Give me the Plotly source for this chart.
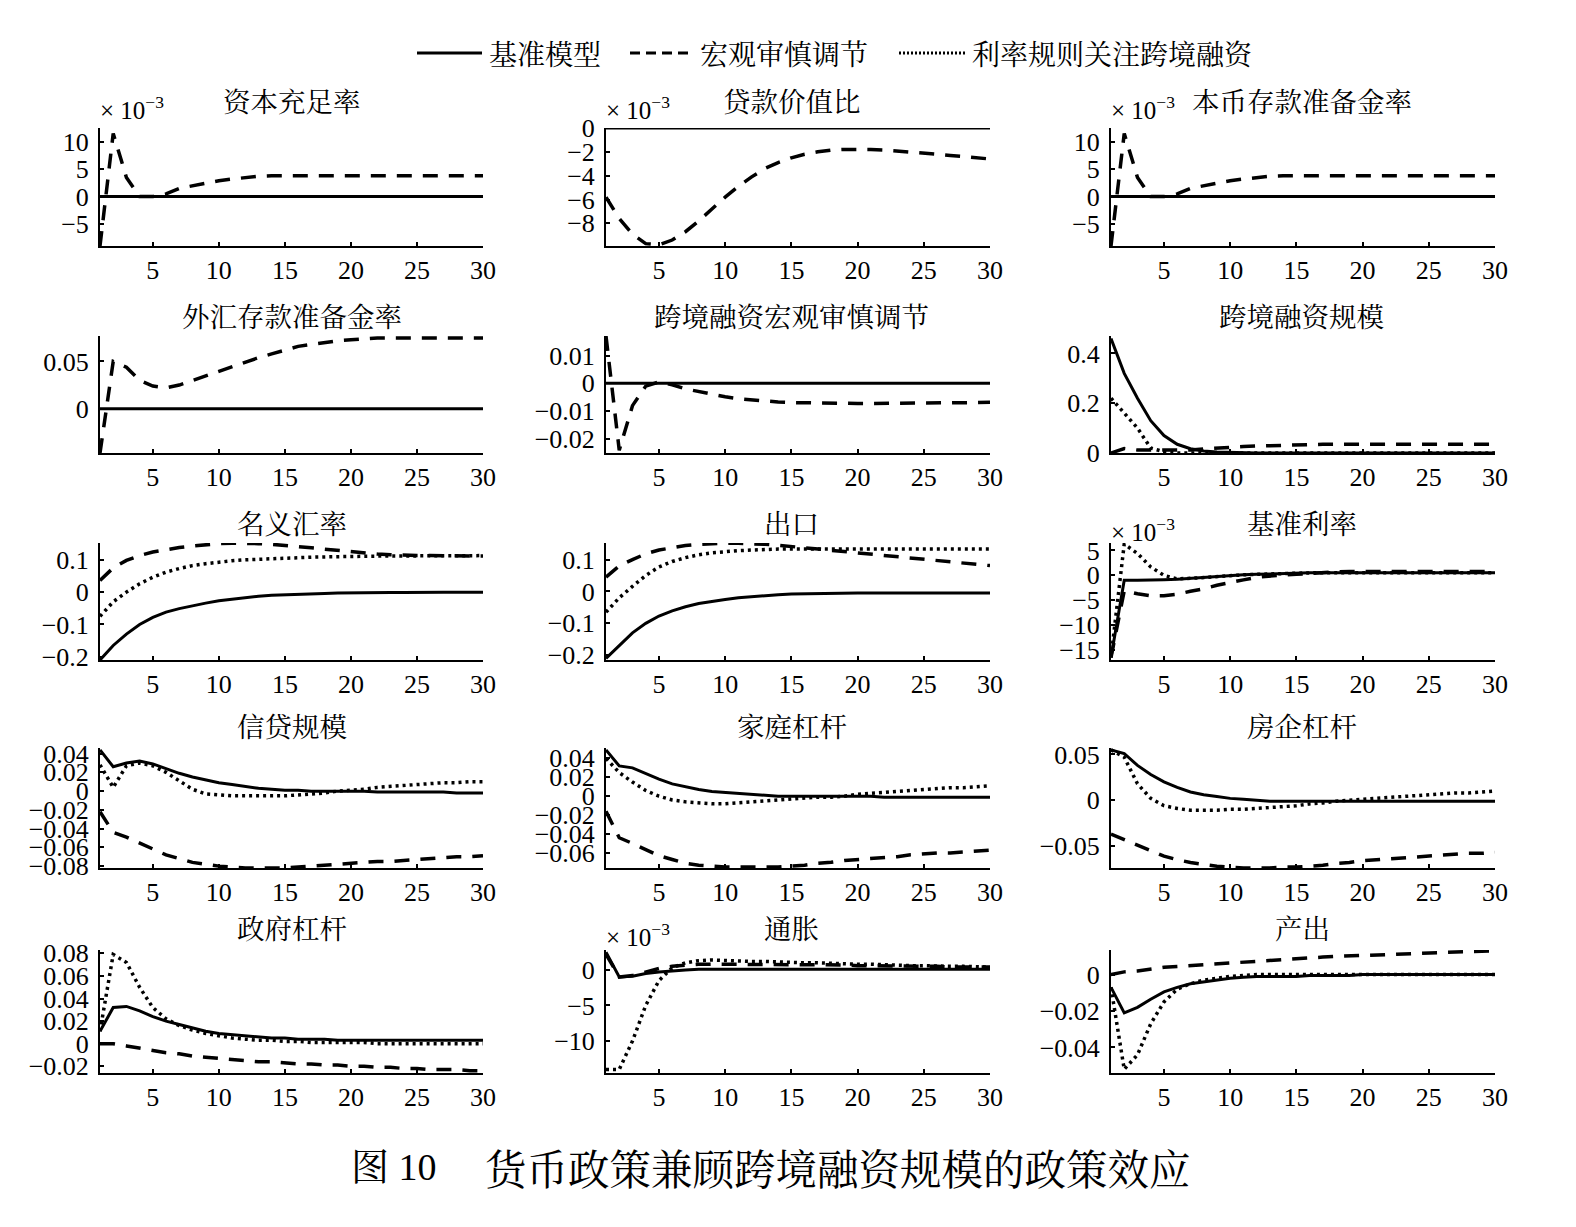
import plotly.graph_objects as go

W, H = 1576, 1227
periods = list(range(1, 31))

# ---------------- data ----------------
# 资本充足率 (x10^-3)
cap_base = [0.0] * 30
cap_macro = [-9.0, 11.5, 3.5, 0.0, 0.0, 0.5, 1.5, 2.0, 2.5, 2.9, 3.2, 3.5, 3.7, 3.8, 3.8,
             3.8, 3.8, 3.8, 3.8, 3.8, 3.8, 3.8, 3.8, 3.8, 3.8, 3.8, 3.8, 3.8, 3.8, 3.8]
# 贷款价值比 (x10^-3)
ltv_base = [0.0] * 30
ltv_macro = [-5.8, -7.6, -8.9, -9.7, -9.8, -9.4, -8.7, -7.8, -6.8, -5.8, -4.9, -4.1, -3.4, -2.9, -2.5,
             -2.2, -2.0, -1.85, -1.8, -1.78, -1.8, -1.85, -1.92, -2.0, -2.1, -2.2, -2.3, -2.42, -2.52, -2.6]
# 本币存款准备金率 (x10^-3)
rrd_base = [0.0] * 30
rrd_macro = [-9.0, 11.5, 3.5, 0.0, 0.0, 0.5, 1.5, 2.0, 2.5, 2.9, 3.2, 3.5, 3.7, 3.8, 3.8,
             3.8, 3.8, 3.8, 3.8, 3.8, 3.8, 3.8, 3.8, 3.8, 3.8, 3.8, 3.8, 3.8, 3.8, 3.8]
# 外汇存款准备金率
rrf_base = [0.0] * 30
rrf_macro = [-0.047, 0.050, 0.044, 0.030, 0.024, 0.022, 0.025, 0.030, 0.035, 0.040, 0.045, 0.050, 0.054, 0.058, 0.062,
             0.066, 0.068, 0.070, 0.072, 0.073, 0.074, 0.075, 0.075, 0.075, 0.075, 0.075, 0.075, 0.075, 0.075, 0.075]
# 跨境融资宏观审慎调节
cbm_base = [0.0] * 30
cbm_macro = [0.017, -0.024, -0.008, -0.001, 0.0005, -0.0005, -0.002, -0.003, -0.004, -0.0048, -0.0055, -0.006, -0.0064, -0.0067, -0.0069,
             -0.007, -0.0072, -0.0072, -0.0072, -0.0072, -0.0072, -0.0072, -0.0072, -0.0072, -0.0072, -0.0072, -0.0072, -0.007, -0.0069, -0.0068]
# 跨境融资规模
cbs_base = [0.46, 0.32, 0.22, 0.13, 0.07, 0.035, 0.017, 0.008, 0.004, 0.002, 0.001, 0.0, 0.0, 0.0, 0.0,
            0.0, 0.0, 0.0, 0.0, 0.0, 0.0, 0.0, 0.0, 0.0, 0.0, 0.0, 0.0, 0.0, 0.0, 0.0]
cbs_macro = [0.0, 0.018, 0.012, 0.012, 0.010, 0.010, 0.012, 0.016, 0.020, 0.023, 0.026, 0.028, 0.030, 0.032, 0.034,
             0.035, 0.035, 0.035, 0.035, 0.035, 0.035, 0.035, 0.035, 0.035, 0.035, 0.035, 0.035, 0.035, 0.035, 0.035]
cbs_rule = [0.22, 0.16, 0.10, 0.02, 0.005, 0.0, 0.0, 0.0, 0.0, 0.0, 0.0, 0.0, 0.0, 0.0, 0.0,
            0.0, 0.0, 0.0, 0.0, 0.0, 0.0, 0.0, 0.0, 0.0, 0.0, 0.0, 0.0, 0.0, 0.0, 0.0]
# 名义汇率
fx_base = [-0.21, -0.165, -0.13, -0.10, -0.078, -0.062, -0.051, -0.042, -0.034, -0.027, -0.022, -0.017, -0.013, -0.010, -0.008,
           -0.006, -0.005, -0.004, -0.003, -0.002, -0.002, -0.001, -0.001, -0.001, 0.0, 0.0, 0.0, 0.0, 0.0, 0.0]
fx_macro = [0.036, 0.075, 0.098, 0.113, 0.124, 0.132, 0.138, 0.143, 0.147, 0.150, 0.151, 0.151, 0.150, 0.148, 0.145,
            0.141, 0.137, 0.133, 0.129, 0.125, 0.121, 0.118, 0.116, 0.114, 0.113, 0.113, 0.112, 0.112, 0.112, 0.112]
fx_rule = [-0.075, -0.03, 0.0, 0.026, 0.046, 0.062, 0.073, 0.082, 0.088, 0.093, 0.097, 0.100, 0.102, 0.104, 0.106,
           0.107, 0.108, 0.109, 0.110, 0.110, 0.111, 0.111, 0.112, 0.112, 0.112, 0.113, 0.113, 0.113, 0.113, 0.113]
# 出口
ex_base = [-0.21, -0.17, -0.13, -0.10, -0.077, -0.061, -0.048, -0.038, -0.031, -0.025, -0.020, -0.016, -0.013, -0.010, -0.008,
           -0.007, -0.006, -0.006, -0.005, -0.005, -0.005, -0.005, -0.005, -0.005, -0.005, -0.005, -0.005, -0.005, -0.005, -0.005]
ex_macro = [0.045, 0.08, 0.10, 0.118, 0.13, 0.138, 0.144, 0.148, 0.15, 0.151, 0.151, 0.15, 0.148, 0.145, 0.141,
            0.137, 0.133, 0.129, 0.125, 0.121, 0.117, 0.113, 0.109, 0.105, 0.101, 0.097, 0.093, 0.089, 0.085, 0.081]
ex_rule = [-0.065, -0.02, 0.016, 0.05, 0.077, 0.094, 0.106, 0.115, 0.121, 0.125, 0.128, 0.130, 0.132, 0.133, 0.133,
           0.133, 0.133, 0.133, 0.133, 0.133, 0.133, 0.133, 0.133, 0.133, 0.133, 0.133, 0.133, 0.133, 0.133, 0.133]
# 基准利率 (x10^-3)
ir_base = [-16.5, -1.0, -1.0, -1.0, -0.9, -0.8, -0.6, -0.4, -0.2, 0.0, 0.1, 0.2, 0.3, 0.4, 0.4,
           0.5, 0.5, 0.5, 0.5, 0.5, 0.5, 0.5, 0.5, 0.5, 0.5, 0.5, 0.5, 0.5, 0.5, 0.5]
ir_macro = [-16.5, -3.1, -3.7, -4.1, -4.1, -3.8, -3.2, -2.7, -2.0, -1.4, -0.9, -0.4, -0.1, 0.1, 0.2,
            0.4, 0.6, 0.7, 0.8, 0.8, 0.9, 0.9, 0.9, 0.9, 0.9, 0.9, 0.9, 0.9, 0.8, 0.7]
ir_rule = [-16.5, 6.3, 4.4, 1.7, 0.0, -0.7, -0.6, -0.4, -0.2, 0.0, 0.1, 0.2, 0.3, 0.4, 0.4,
           0.5, 0.5, 0.5, 0.5, 0.5, 0.5, 0.5, 0.5, 0.5, 0.5, 0.5, 0.5, 0.5, 0.5, 0.5]
# 信贷规模
cr_base = [0.044, 0.026, 0.030, 0.032, 0.029, 0.024, 0.019, 0.015, 0.012, 0.009, 0.007, 0.005, 0.003, 0.002, 0.001,
           0.001, 0.0, 0.0, 0.0, 0.0, 0.0, -0.001, -0.001, -0.001, -0.001, -0.001, -0.001, -0.002, -0.002, -0.002]
cr_macro = [-0.022, -0.044, -0.049, -0.055, -0.062, -0.068, -0.072, -0.076, -0.078, -0.080, -0.081, -0.082, -0.082, -0.082, -0.082,
            -0.081, -0.080, -0.079, -0.078, -0.077, -0.076, -0.075, -0.075, -0.074, -0.073, -0.072, -0.071, -0.070, -0.070, -0.069]
cr_rule = [0.028, 0.004, 0.027, 0.030, 0.027, 0.020, 0.011, 0.002, -0.003, -0.004, -0.005, -0.005, -0.005, -0.005, -0.005,
           -0.004, -0.003, -0.002, 0.0, 0.001, 0.002, 0.004, 0.005, 0.006, 0.007, 0.008, 0.009, 0.009, 0.010, 0.010]
# 家庭杠杆
hh_base = [0.049, 0.032, 0.030, 0.024, 0.018, 0.013, 0.010, 0.007, 0.005, 0.004, 0.003, 0.002, 0.001, 0.0, 0.0,
           0.0, 0.0, 0.0, 0.0, 0.0, 0.0, -0.001, -0.001, -0.001, -0.001, -0.001, -0.001, -0.001, -0.001, -0.001]
hh_macro = [-0.016, -0.044, -0.050, -0.057, -0.063, -0.067, -0.071, -0.073, -0.074, -0.075, -0.075, -0.075, -0.075, -0.075, -0.074,
            -0.073, -0.071, -0.070, -0.068, -0.067, -0.066, -0.065, -0.064, -0.062, -0.061, -0.060, -0.060, -0.059, -0.058, -0.057]
hh_rule = [0.040, 0.025, 0.015, 0.006, 0.0, -0.004, -0.006, -0.007, -0.008, -0.008, -0.007, -0.006, -0.005, -0.004, -0.003,
           -0.002, -0.001, -0.001, 0.0, 0.002, 0.003, 0.004, 0.005, 0.006, 0.007, 0.008, 0.009, 0.009, 0.010, 0.011]
# 房企杠杆
re_base = [0.055, 0.051, 0.038, 0.028, 0.020, 0.014, 0.009, 0.006, 0.004, 0.002, 0.001, 0.0, -0.001, -0.001, -0.001,
           -0.001, -0.001, -0.001, -0.001, -0.001, -0.001, -0.001, -0.001, -0.001, -0.001, -0.001, -0.001, -0.001, -0.001, -0.001]
re_macro = [-0.037, -0.043, -0.049, -0.055, -0.061, -0.065, -0.068, -0.070, -0.072, -0.073, -0.074, -0.074, -0.074, -0.073, -0.073,
            -0.072, -0.071, -0.069, -0.068, -0.066, -0.065, -0.064, -0.063, -0.062, -0.061, -0.060, -0.059, -0.058, -0.058, -0.057]
re_rule = [0.055, 0.047, 0.018, 0.002, -0.006, -0.009, -0.011, -0.011, -0.011, -0.010, -0.010, -0.009, -0.008, -0.007, -0.006,
           -0.004, -0.003, -0.001, 0.0, 0.001, 0.002, 0.003, 0.004, 0.005, 0.006, 0.007, 0.008, 0.008, 0.009, 0.010]
# 政府杠杆
gov_base = [0.011, 0.032, 0.033, 0.029, 0.024, 0.020, 0.017, 0.014, 0.011, 0.009, 0.008, 0.007, 0.006, 0.005, 0.005,
            0.004, 0.004, 0.004, 0.003, 0.003, 0.003, 0.003, 0.003, 0.003, 0.003, 0.003, 0.003, 0.003, 0.003, 0.003]
gov_macro = [0.0, 0.0, -0.002, -0.004, -0.006, -0.008, -0.009, -0.011, -0.012, -0.013, -0.014, -0.015, -0.016, -0.016, -0.017,
             -0.018, -0.018, -0.019, -0.019, -0.020, -0.020, -0.021, -0.021, -0.022, -0.022, -0.023, -0.023, -0.023, -0.024, -0.024]
gov_rule = [0.011, 0.079, 0.072, 0.050, 0.032, 0.022, 0.016, 0.012, 0.009, 0.007, 0.005, 0.004, 0.003, 0.003, 0.002,
            0.002, 0.001, 0.001, 0.001, 0.001, 0.001, 0.0, 0.0, 0.0, 0.0, 0.0, 0.0, 0.0, 0.0, 0.0]
# 通胀 (x10^-3)
inf_base = [2.5, -1.0, -0.9, -0.5, -0.3, -0.1, 0.0, 0.1, 0.1, 0.2, 0.2, 0.2, 0.2, 0.2, 0.2,
            0.2, 0.2, 0.2, 0.2, 0.2, 0.2, 0.2, 0.2, 0.1, 0.1, 0.1, 0.1, 0.1, 0.1, 0.1]
inf_macro = [2.2, -1.0, -0.8, -0.3, 0.2, 0.5, 0.7, 0.8, 0.8, 0.8, 0.8, 0.8, 0.8, 0.8, 0.8,
             0.7, 0.7, 0.7, 0.7, 0.6, 0.6, 0.6, 0.5, 0.5, 0.5, 0.5, 0.4, 0.4, 0.4, 0.4]
inf_rule = [-14.0, -14.0, -10.0, -5.0, -1.5, 0.3, 1.0, 1.3, 1.4, 1.3, 1.3, 1.2, 1.2, 1.1, 1.1,
            1.0, 1.0, 0.9, 0.9, 0.8, 0.8, 0.7, 0.7, 0.6, 0.6, 0.5, 0.5, 0.5, 0.4, 0.4]
# 产出
out_base = [-0.007, -0.021, -0.018, -0.0135, -0.0095, -0.007, -0.005, -0.004, -0.003, -0.002, -0.0015, -0.001, -0.001, -0.001, -0.001,
            -0.0005, -0.0005, -0.0005, -0.0005, 0.0, 0.0, 0.0, 0.0, 0.0, 0.0, 0.0, 0.0, 0.0, 0.0, 0.0]
out_macro = [0.0, 0.0015, 0.002, 0.003, 0.004, 0.0045, 0.005, 0.0055, 0.006, 0.0065, 0.007, 0.0075, 0.008, 0.0085, 0.009,
             0.0093, 0.0096, 0.01, 0.0103, 0.0106, 0.0109, 0.0112, 0.0115, 0.0117, 0.012, 0.0122, 0.0124, 0.0126, 0.0128, 0.013]
out_rule = [-0.007, -0.052, -0.044, -0.027, -0.015, -0.008, -0.005, -0.003, -0.002, -0.001, -0.0005, 0.0, 0.0, 0.0, 0.0,
            0.0, 0.0, 0.0, 0.0, 0.0, 0.0, 0.0, 0.0, 0.0, 0.0, 0.0, 0.0, 0.0, 0.0, 0.0]

x_ticks = [5, 10, 15, 20, 25, 30]
series_names = ["基准模型", "宏观审慎调节", "利率规则关注跨境融资"]
caption_no = "图 10"
caption_text = "货币政策兼顾跨境融资规模的政策效应"

panels = [
    ("资本充足率", cap_base, cap_macro, None, [-9, 12.5], [10, 5, 0, -5], ["10", "5", "0", "−5"], True),
    ("贷款价值比", ltv_base, ltv_macro, None, [-9.9, 0], [0, -2, -4, -6, -8], ["0", "−2", "−4", "−6", "−8"], True),
    ("本币存款准备金率", rrd_base, rrd_macro, None, [-9, 12.5], [10, 5, 0, -5], ["10", "5", "0", "−5"], True),
    ("外汇存款准备金率", rrf_base, rrf_macro, None, [-0.047, 0.077], [0.05, 0, -0.05], ["0.05", "0", "−0.05"], False),
    ("跨境融资宏观审慎调节", cbm_base, cbm_macro, None, [-0.025, 0.017], [0.01, 0, -0.01, -0.02], ["0.01", "0", "−0.01", "−0.02"], False),
    ("跨境融资规模", cbs_base, cbs_macro, cbs_rule, [0, 0.47], [0.4, 0.2, 0], ["0.4", "0.2", "0"], False),
    ("名义汇率", fx_base, fx_macro, fx_rule, [-0.21, 0.152], [0.1, 0, -0.1, -0.2], ["0.1", "0", "−0.1", "−0.2"], False),
    ("出口", ex_base, ex_macro, ex_rule, [-0.215, 0.152], [0.1, 0, -0.1, -0.2], ["0.1", "0", "−0.1", "−0.2"], False),
    ("基准利率", ir_base, ir_macro, ir_rule, [-17, 6.5], [5, 0, -5, -10, -15], ["5", "0", "−5", "−10", "−15"], True),
    ("信贷规模", cr_base, cr_macro, cr_rule, [-0.082, 0.046], [0.04, 0.02, 0, -0.02, -0.04, -0.06, -0.08],
     ["0.04", "0.02", "0", "−0.02", "−0.04", "−0.06", "−0.08"], False),
    ("家庭杠杆", hh_base, hh_macro, hh_rule, [-0.076, 0.051], [0.04, 0.02, 0, -0.02, -0.04, -0.06],
     ["0.04", "0.02", "0", "−0.02", "−0.04", "−0.06"], False),
    ("房企杠杆", re_base, re_macro, re_rule, [-0.074, 0.057], [0.05, 0, -0.05], ["0.05", "0", "−0.05"], False),
    ("政府杠杆", gov_base, gov_macro, gov_rule, [-0.026, 0.083], [0.08, 0.06, 0.04, 0.02, 0, -0.02],
     ["0.08", "0.06", "0.04", "0.02", "0", "−0.02"], False),
    ("通胀", inf_base, inf_macro, inf_rule, [-14.5, 2.8], [0, -5, -10], ["0", "−5", "−10"], True),
    ("产出", out_base, out_macro, out_rule, [-0.054, 0.0135], [0, -0.02, -0.04], ["0", "−0.02", "−0.04"], False),
]

# ---------------- layout geometry (pixels) ----------------
col_left = [100, 606, 1111]
col_right = [483, 990, 1495]
title_x = [292, 792, 1302]
row_top = [128, 336, 543, 748, 950]
row_bot = [246, 453, 660, 868, 1073]
title_y = [100, 315, 522, 725, 927]

SERIF = "Liberation Serif, Times New Roman, Noto Serif CJK SC, Noto Sans CJK SC, serif"
CJK = "Noto Serif CJK SC, Noto Sans CJK SC, serif"


def fx(p):
    return p / W


def fy(p):
    return 1 - p / H


styles = [
    dict(color="black", width=3),
    dict(color="black", width=3.5, dash="15px,11px"),
    dict(color="black", width=3.5, dash="3px,4px"),
]

fig = go.Figure()
layout = dict(
    width=W, height=H, autosize=False,
    margin=dict(l=0, r=0, t=0, b=0, pad=0, autoexpand=False),
    paper_bgcolor="white", plot_bgcolor="white", showlegend=False,
    font=dict(family=SERIF, color="black", size=24),
)
annotations = []
shapes = []

for i, (title, base, macro, rule, yr, tv, tt, exp) in enumerate(panels):
    r, c = divmod(i, 3)
    k = i + 1
    xa = "x" if k == 1 else f"x{k}"
    ya = "y" if k == 1 else f"y{k}"
    for vals, st in ((rule, styles[2]), (macro, styles[1]), (base, styles[0])):
        if vals is None:
            continue
        fig.add_trace(go.Scatter(x=periods, y=vals, mode="lines", line=st,
                                 xaxis=xa, yaxis=ya, hoverinfo="skip"))
    layout[f"xaxis{k}"] = dict(
        domain=[fx(col_left[c]), fx(col_right[c])], anchor=ya, range=[1, 30],
        tickvals=x_ticks, ticks="inside", ticklen=4, tickwidth=2, tickcolor="black",
        showline=True, linecolor="black", linewidth=2, showgrid=False, zeroline=False,
        automargin=False,
        tickfont=dict(family=SERIF, size=26, color="black"), ticklabelstandoff=0,
    )
    layout[f"yaxis{k}"] = dict(
        domain=[fy(row_bot[r]), fy(row_top[r])], anchor=xa, range=yr,
        tickvals=tv, ticktext=tt, ticks="inside", ticklen=4, tickwidth=2, tickcolor="black",
        showline=True, linecolor="black", linewidth=2, showgrid=False, zeroline=False,
        automargin=False,
        tickfont=dict(family=SERIF, size=26, color="black"), ticklabelstandoff=4,
    )
    annotations.append(dict(
        text=title, xref="paper", yref="paper",
        x=fx(title_x[c]), y=fy(title_y[r]),
        xanchor="center", yanchor="middle", showarrow=False,
        font=dict(family=CJK, size=27.5, color="black"),
    ))
    if exp:
        annotations.append(dict(
            text="× 10<sup>−3</sup>", xref="paper", yref="paper",
            x=fx(col_left[c] - 2), y=fy(title_y[r] + 8),
            xanchor="left", yanchor="middle", showarrow=False,
            font=dict(family=SERIF, size=25, color="black"),
        ))

# legend (drawn manually at top)
leg_y = 53
leg_items = [(417, 482, 487, styles[0]), (630, 693, 698, dict(color="black", width=3, dash="10px,6px")),
             (899, 967, 970, dict(color="black", width=3, dash="2px,2px"))]
for (x0, x1, xt, st), name in zip(leg_items, series_names):
    shapes.append(dict(type="line", xref="paper", yref="paper",
                       x0=fx(x0), x1=fx(x1), y0=fy(leg_y), y1=fy(leg_y), line=st))
    annotations.append(dict(text=name, xref="paper", yref="paper", x=fx(xt), y=fy(leg_y),
                            xanchor="left", yanchor="middle", showarrow=False,
                            font=dict(family=CJK, size=28, color="black")))

# caption
annotations.append(dict(text=caption_no, xref="paper", yref="paper", x=fx(349), y=fy(1167),
                        xanchor="left", yanchor="middle", showarrow=False,
                        font=dict(family=SERIF, size=38, color="black")))
annotations.append(dict(text=caption_text, xref="paper", yref="paper", x=fx(838), y=fy(1167),
                        xanchor="center", yanchor="middle", showarrow=False,
                        font=dict(family=CJK, size=41.5, color="black")))

layout["annotations"] = annotations
layout["shapes"] = shapes
fig.update_layout(**layout)
fig.write_html("out.html")
